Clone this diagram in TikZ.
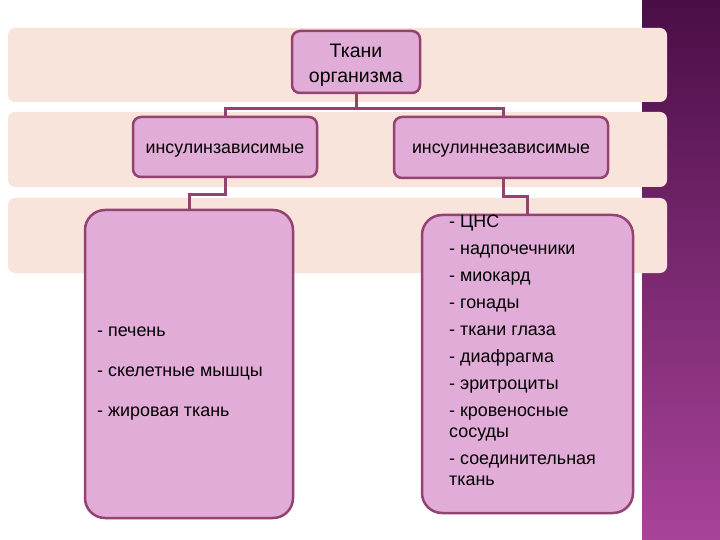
\documentclass[tikz,border=0pt]{standalone}
\usepackage{fontspec}
\setmainfont{Liberation Sans}
\usetikzlibrary{positioning,calc}
\definecolor{bandpeach}{HTML}{F9E4DB}
\definecolor{boxfill}{HTML}{E2ACD8}
\definecolor{boxline}{HTML}{94426F}
\definecolor{stripdark}{HTML}{4A0E46}
\definecolor{striplight}{HTML}{A8439A}

\begin{document}
\begin{tikzpicture}[x=1pt, y=-1pt,
    band/.style={fill=bandpeach, rounded corners=7pt},
    box/.style={draw=boxline, fill=boxfill, line width=2.5pt, rounded corners=8pt, font=\fontsize{17.8}{21}\selectfont, inner sep=0pt, text height=13pt, text depth=0pt},
    bigbox/.style={box, rounded corners=20pt},
    listtext/.style={align=left, font=\fontsize{17.9}{21}\selectfont, inner sep=0pt},
    link/.style={draw=boxline, line width=3pt},
]
\useasboundingbox[fill=white] (0,0) rectangle (720,540);
\shade[top color=stripdark, bottom color=striplight] (642,0) rectangle (720,540);

\fill[band] (8,28) rectangle (667,102);
\fill[band] (8,112) rectangle (667,187);
\fill[band] (8,198) rectangle (667,273);

\node[box, align=center, minimum width=128pt, minimum height=62pt, font=\fontsize{19.5}{25}\selectfont, text height=42pt, text depth=0pt] (root) at (356,62) {Ткани\\организма};
\node[box, minimum width=184pt, minimum height=60pt] (dep) at (225,147) {инсулинзависимые};
\node[box, minimum width=214pt, minimum height=61pt] (indep) at (501,147.5) {инсулиннезависимые};
\node[bigbox, minimum width=208pt, minimum height=308pt] (deplist) at (189,364) {};
\node[bigbox, minimum width=211pt, minimum height=298pt] (indeplist) at (527.5,364) {};

\node[listtext, anchor=west] (deptext) at (97,374) {- печень\\[19pt]- скелетные мышцы\\[19pt]- жировая ткань};
\node[listtext, anchor=north west] (indeptext) at (449,215) {- ЦНС\\[6pt]- надпочечники\\[6pt]- миокард\\[6pt]- гонады\\[6pt]- ткани глаза\\[6pt]- диафрагма\\[6pt]- эритроциты\\[6pt]- кровеносные\\сосуды\\[6pt]- соединительная\\ткань};

\draw[link] (root.south) -- ++(0,14) -| (dep.north);
\draw[link] (root.south) -- ++(0,14) -| ([xshift=2pt]indep.north);
\draw[link] (dep.south) -- ++(0,16) -| (deplist.north);
\draw[link] ([xshift=2pt]indep.south) -- ++(0,17) -| (indeplist.north);
\end{tikzpicture}
\end{document}
